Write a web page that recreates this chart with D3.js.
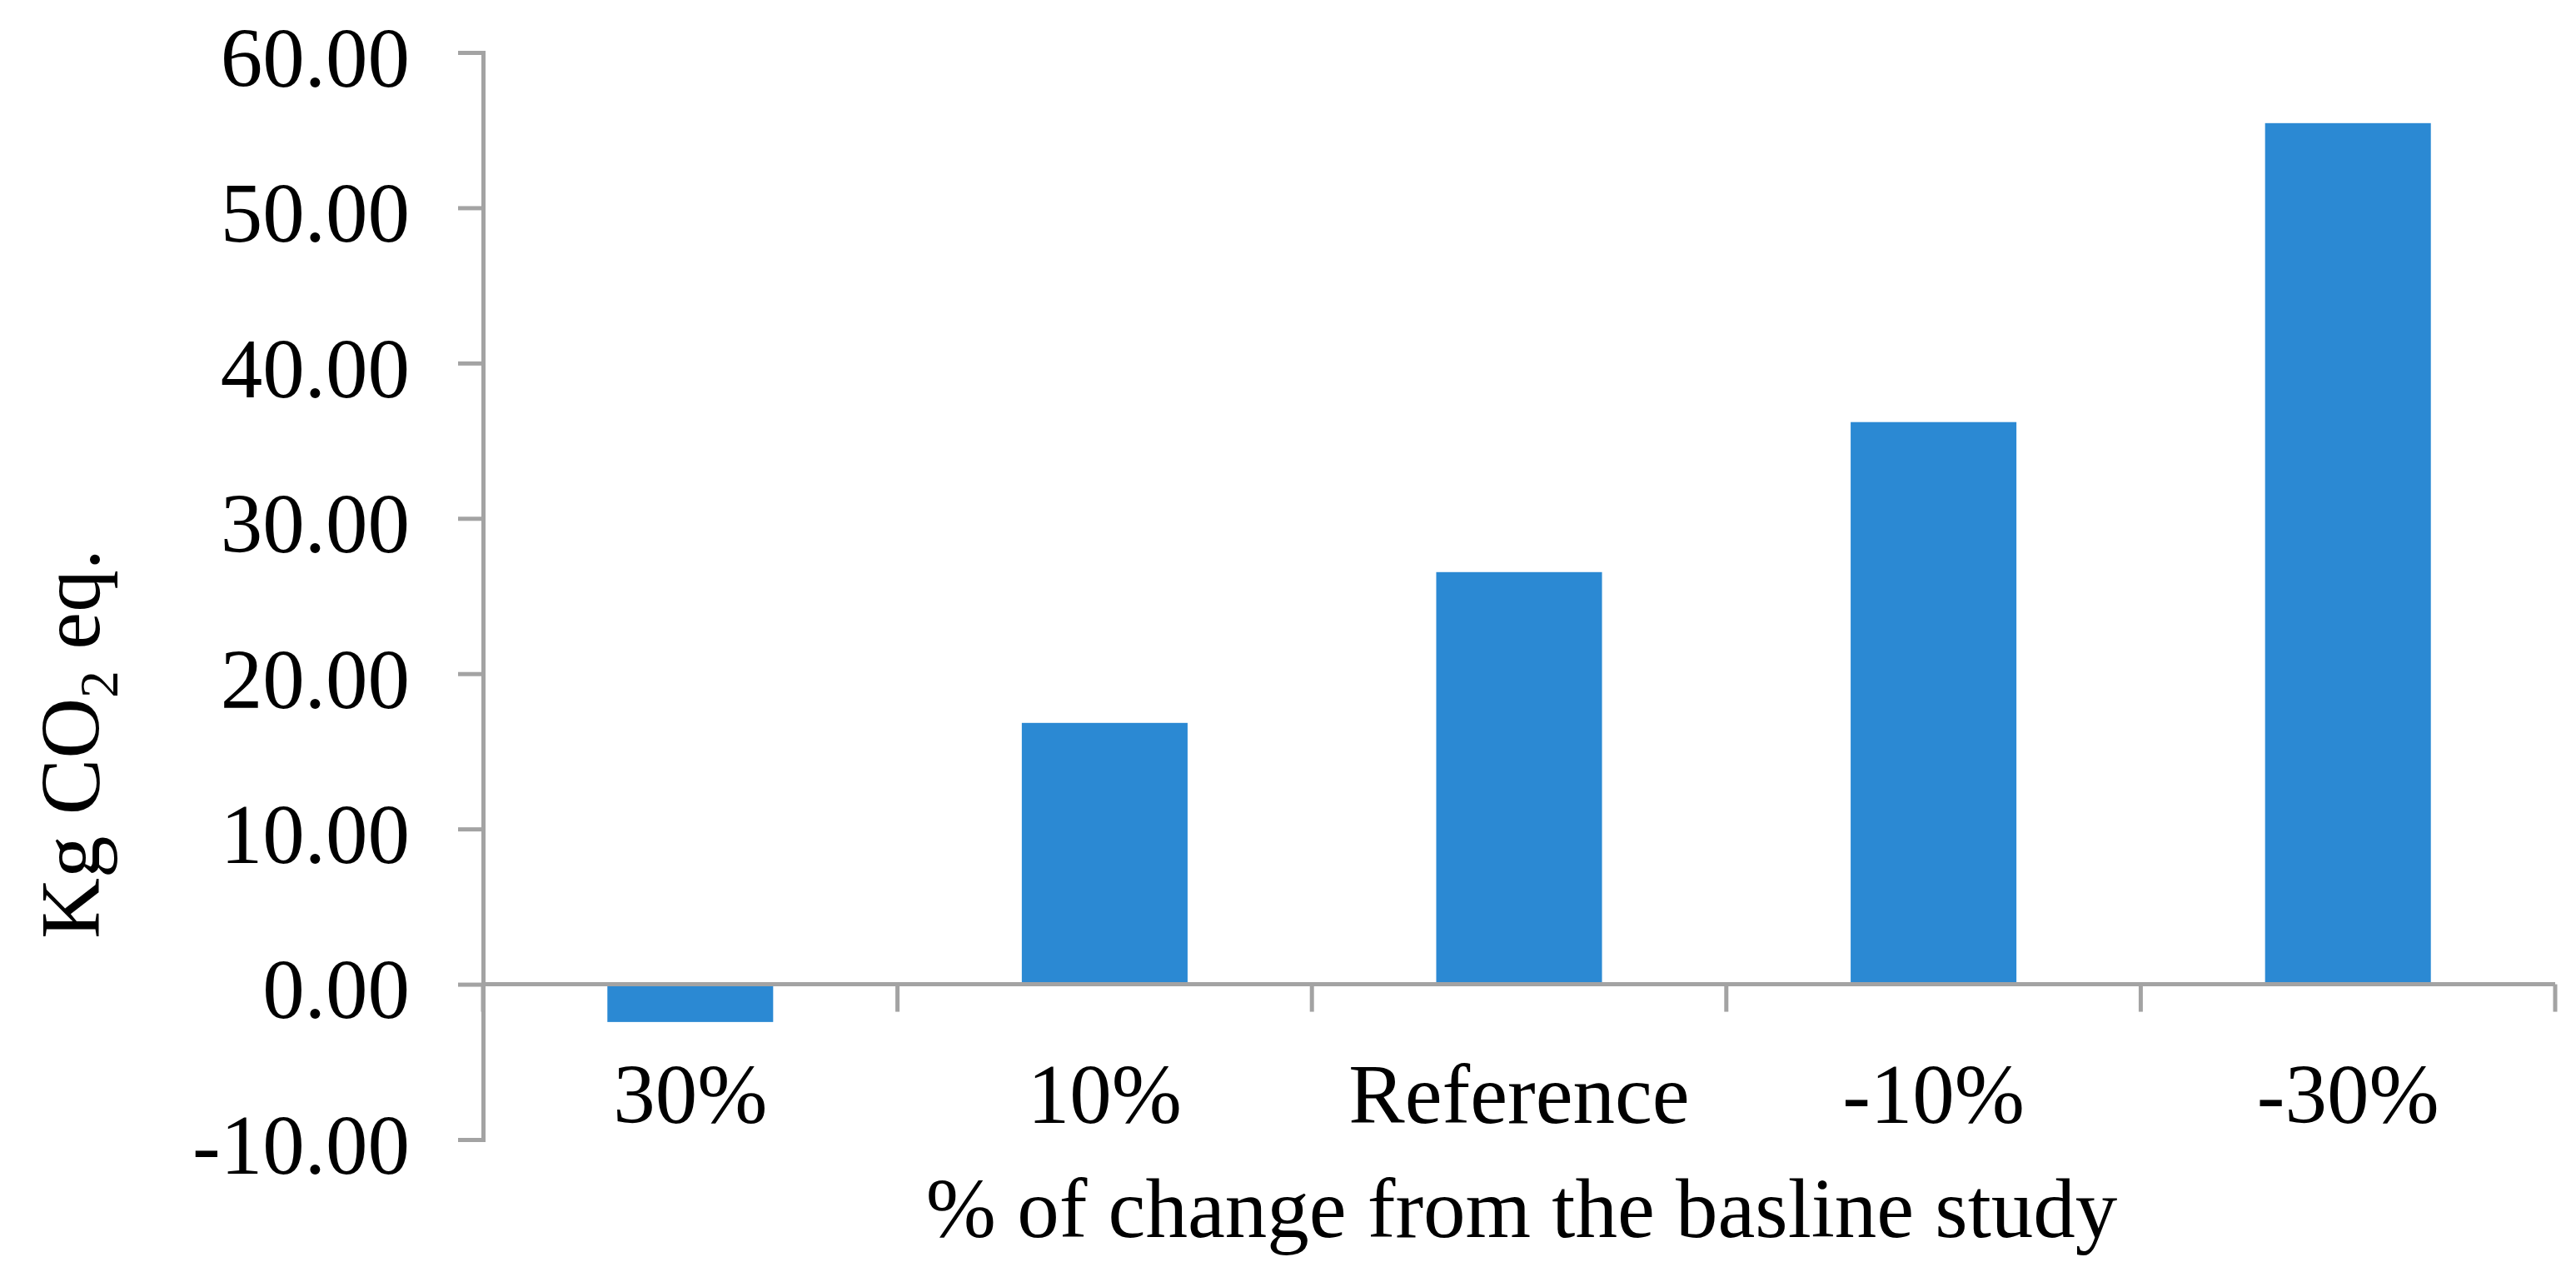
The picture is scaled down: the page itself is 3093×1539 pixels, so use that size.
<!DOCTYPE html>
<html>
<head>
<meta charset="utf-8">
<script src="https://cdn.jsdelivr.net/npm/d3@7"></script>
<style>
  html, body { margin: 0; padding: 0; background: #ffffff; }
  svg { display: block; }
  text { font-family: "Liberation Serif", "Times New Roman", serif; fill: #000; }
</style>
</head>
<body>
<script>
// ---- data ----
const categories = ["30%", "10%", "Reference", "-10%", "-30%"];
const values = [-2.43, 16.83, 26.54, 36.2, 55.45];
const yTickValues = [-10, 0, 10, 20, 30, 40, 50, 60];
const yTickLabels = ["-10.00", "0.00", "10.00", "20.00", "30.00", "40.00", "50.00", "60.00"];
const xTitle = "% of change from the basline study";

// ---- layout ----
const W = 3093, H = 1539;
const plotLeft = 580, plotRight = 3068, plotTop = 63, plotBottom = 1368;
const axisColor = "#a3a3a3";
const barColor = "#2b89d3";
const fontSize = 101;

const svg = d3.select("body").append("svg")
  .attr("width", W).attr("height", H)
  .attr("viewBox", `0 0 ${W} ${H}`);

const y = d3.scaleLinear().domain([-10, 60]).range([plotBottom, plotTop]);
const x = d3.scaleBand().domain(categories).range([plotLeft, plotRight]).padding(0);
const bw = x.bandwidth();

// bars
svg.append("g").selectAll("rect")
  .data(values)
  .join("rect")
  .attr("x", (d, i) => x(categories[i]) + bw * 0.3)
  .attr("width", bw * 0.4)
  .attr("y", d => Math.min(y(d), y(0)))
  .attr("height", d => Math.abs(y(d) - y(0)))
  .attr("fill", barColor);

// y axis
const yAxis = svg.append("g")
  .attr("transform", `translate(${plotLeft},0)`)
  .call(d3.axisLeft(y)
    .tickValues(yTickValues)
    .tickFormat(d => yTickLabels[yTickValues.indexOf(d)])
    .tickSize(30)
    .tickSizeOuter(30)
    .tickPadding(58));
yAxis.select(".domain").attr("stroke", axisColor).attr("stroke-width", 5);
yAxis.selectAll(".tick line").attr("stroke", axisColor).attr("stroke-width", 5);
yAxis.selectAll(".tick text")
  .attr("font-family", "Liberation Serif, serif")
  .attr("font-size", fontSize)
  .attr("dy", "0.40em")
  .attr("fill", "#000");

// x axis (zero line) with boundary ticks
const y0 = y(0);
const xAxis = svg.append("g")
  .attr("transform", `translate(0,${y0})`)
  .call(d3.axisBottom(x).tickSize(0).tickSizeOuter(0).tickPadding(95));
xAxis.select(".domain").remove();
xAxis.selectAll(".tick text")
  .attr("font-family", "Liberation Serif, serif")
  .attr("font-size", fontSize)
  .attr("fill", "#000");

svg.append("line")
  .attr("x1", plotLeft).attr("x2", plotRight)
  .attr("y1", y0).attr("y2", y0)
  .attr("stroke", axisColor).attr("stroke-width", 5);

const boundaries = categories.map(c => x(c)).concat([x(categories[categories.length - 1]) + bw]);
svg.append("g").selectAll("line")
  .data(boundaries)
  .join("line")
  .attr("x1", d => d).attr("x2", d => d)
  .attr("y1", y0).attr("y2", y0 + 33)
  .attr("stroke", axisColor).attr("stroke-width", 5);

// x title
svg.append("text")
  .attr("x", (plotLeft + plotRight) / 2 + 3)
  .attr("y", 1485)
  .attr("text-anchor", "middle")
  .attr("font-size", fontSize)
  .text(xTitle);

// y title
const yt = svg.append("text")
  .attr("transform", "translate(119,893) rotate(-90)")
  .attr("text-anchor", "middle")
  .attr("font-size", fontSize);
yt.append("tspan").text("Kg CO");
yt.append("tspan").attr("font-size", 66).attr("dy", 22).text("2");
yt.append("tspan").attr("dy", -22).text(" eq.");
</script>
</body>
</html>
